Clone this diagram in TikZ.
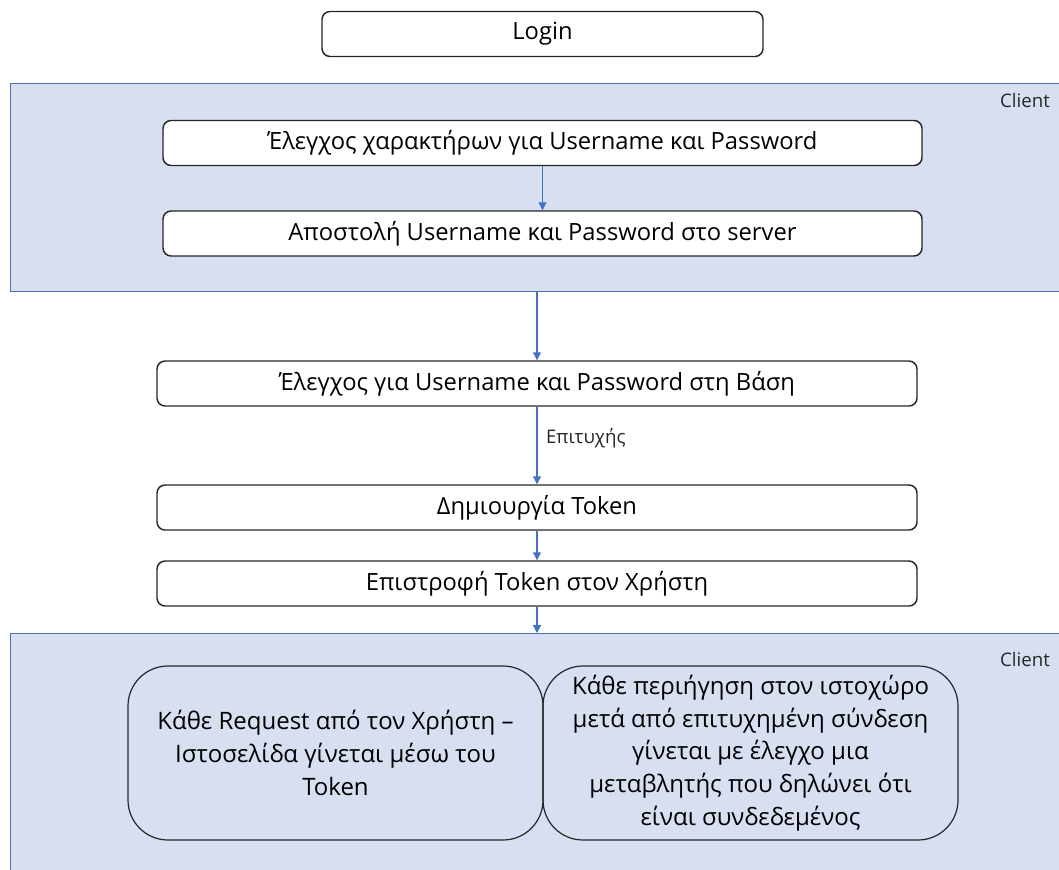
\documentclass[tikz,border=0pt]{standalone}
\usepackage{fontspec}
\setmainfont{Open Sans}
\usetikzlibrary{arrows.meta}
\definecolor{bandfill}{HTML}{D7DFF1}
\definecolor{bandline}{HTML}{4A72BC}
\definecolor{flow}{HTML}{4472C4}
\definecolor{boxline}{HTML}{262626}
\tikzset{
  px/.style={x=0.75pt,y=-0.75pt},
  stepbox/.style={draw=boxline,line width=1.1pt,fill=white,rounded corners=6pt,
    minimum width=#1*0.75pt,minimum height=45*0.75pt,inner sep=0pt,
    font=\fontsize{17.8}{20}\selectfont},
  band/.style={draw=bandline,line width=1.1pt,fill=bandfill,inner sep=0pt,anchor=north west},
  noteblock/.style={draw=boxline,line width=0.9pt,rounded corners=30pt,
    minimum width=415*0.75pt,minimum height=174*0.75pt,inner sep=0pt,
    align=center,font=\fontsize{18}{24.6}\selectfont},
  flowarrow/.style={draw=flow,line width=0.9pt,-{Triangle[length=6pt,width=6pt]}},
  tag/.style={font=\fontsize{14}{16}\selectfont,text=black!85}
}
\begin{document}
\begin{tikzpicture}[px]
\useasboundingbox (0,0) rectangle (1059,870);
% client regions
\node[band,minimum width=1060*0.75pt,minimum height=208*0.75pt] (band1) at (10,83) {};
\node[band,minimum width=1060*0.75pt,minimum height=245*0.75pt] (band2) at (10,633) {};
\node[tag] (client1) at (1025,101) {Client};
\node[tag] (client2) at (1025,659) {Client};
% flow steps
\node[stepbox=441] (login) at (542.5,34) {Login};
\node[stepbox=759] (chk) at (542.5,143) {Έλεγχος χαρακτήρων για Username και Password};
\node[stepbox=759] (send) at (542.5,233.5) {Αποστολή Username και Password στο server};
\node[stepbox=760] (db) at (537,383.5) {Έλεγχος για Username και Password στη Βάση};
\node[stepbox=760] (tok) at (537,507.5) {Δημιουργία Token};
\node[stepbox=760] (ret) at (537,583.5) {Επιστροφή Token στον Χρήστη};
% notes inside the second client region
\node[noteblock] (req) at (335.5,753) {Κάθε Request από τον Χρήστη –\\Ιστοσελίδα γίνεται μέσω του\\Token};
\node[noteblock] (nav) at (750.5,753) {Κάθε περιήγηση στον ιστοχώρο\\μετά από επιτυχημένη σύνδεση\\γίνεται με έλεγχο μια\\μεταβλητής που δηλώνει ότι\\είναι συνδεδεμένος};
% connectors
\draw[flowarrow] (chk.south) -- (send.north);
\draw[flowarrow] (band1.south -| db.north) -- (db.north);
\draw[flowarrow] (db.south) -- node[tag,right=3pt,pos=0.4] {Επιτυχής} (tok.north);
\draw[flowarrow] (tok.south) -- (ret.north);
\draw[flowarrow] (ret.south) -- (ret.south |- band2.north);
\end{tikzpicture}
\end{document}
